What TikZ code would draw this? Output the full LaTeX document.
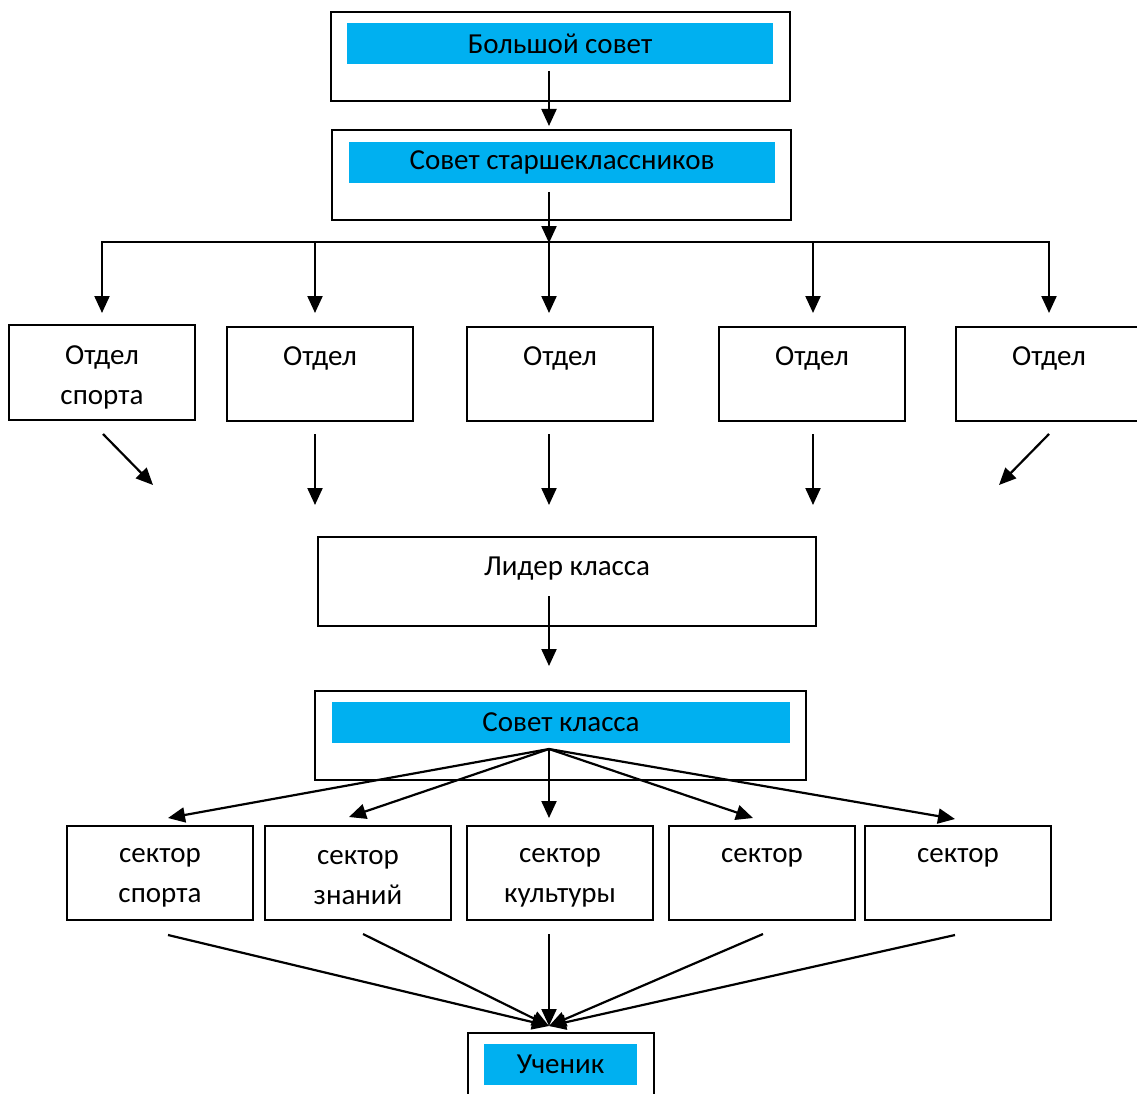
\documentclass[tikz,border=0pt]{standalone}
\usepackage{fontspec}
\setmainfont{Carlito}
\usetikzlibrary{arrows.meta}
\definecolor{barblue}{HTML}{00B0F0}
\begin{document}
\begin{tikzpicture}[x=1pt,y=-1pt,
  box/.style={draw, line width=2pt, inner sep=0pt, minimum width=#1},
  box/.default=186pt,
  bar/.style={fill=barblue, inner sep=0pt, minimum height=41pt, minimum width=#1},
  lbl/.style={inner sep=0pt, align=center, font=\fontsize{29}{40}\selectfont},
  arr/.style={line width=2.2pt, -{Triangle[width=15pt,length=17pt]}},
  ln/.style={line width=2.2pt}]
\useasboundingbox (0,0) rectangle (1137,1094);

% top
\node[box=459pt, minimum height=89pt] (big) at (560.5,56.5) {};
\node[bar=426pt, lbl] (bigt) at (560,43.5) {Большой совет};
\node[box=459pt, minimum height=90pt] (sst) at (561.5,175) {};
\node[bar=426pt, lbl] (sstt) at (562,162.5) {Совет старшеклассников};

\coordinate (a1s) at (549,71);
\coordinate (a1e) at (549,126);
\coordinate (a2s) at (549,192);
\coordinate (bus) at (549,243);
\draw[arr] (a1s) -- (a1e);
\draw[arr] (a2s) -- (bus);

% departments
\node[box, minimum height=95pt] (d1) at (102,372.5) {};
\node[box, minimum height=94pt] (d2) at (320,374) {};
\node[box, minimum height=94pt] (d3) at (560,374) {};
\node[box, minimum height=94pt] (d4) at (812,374) {};
\node[box, minimum height=94pt] (d5) at (1049,374) {};
\node[lbl] (d1t) at (102,377) {Отдел\\спорта};
\node[lbl] (d2t) at (320,358) {Отдел};
\node[lbl] (d3t) at (560,358) {Отдел};
\node[lbl] (d4t) at (812,358) {Отдел};
\node[lbl] (d5t) at (1049,358) {Отдел};

\coordinate (bl) at (102,242);
\coordinate (br) at (1049,242);
\draw[ln, line cap=rect] (bl) -- (br);
\foreach \x/\n in {102/1,315/2,549/3,813/4,1049/5}{
  \coordinate (bt\n) at (\x,242);
  \coordinate (be\n) at (\x,313);
  \draw[arr] (bt\n) -- (be\n);
}

% arrows to leader
\coordinate (l1s) at (103,434); \coordinate (l1e) at (153,485);
\coordinate (l2s) at (315,434); \coordinate (l2e) at (315,505);
\coordinate (l3s) at (549,434); \coordinate (l3e) at (549,505);
\coordinate (l4s) at (813,434); \coordinate (l4e) at (813,505);
\coordinate (l5s) at (1049,434); \coordinate (l5e) at (999,485);
\foreach \n in {1,...,5}{\draw[arr] (l\n s) -- (l\n e);}

\node[box=498pt, minimum height=89pt] (lead) at (567,581.5) {};
\node[lbl] (leadt) at (567,569) {Лидер класса};
\coordinate (lds) at (549,596);
\coordinate (lde) at (549,666);
\draw[arr] (lds) -- (lde);

% class council
\node[box=491pt, minimum height=89pt] (cc) at (560.5,735.5) {};
\node[bar=458pt, lbl] (cct) at (561,722.5) {Совет класса};
\coordinate (ccs) at (549,749);

% sectors
\node[box, minimum height=94pt] (s1) at (160,873) {};
\node[box, minimum height=94pt] (s2) at (358,873) {};
\node[box, minimum height=94pt] (s3) at (560,873) {};
\node[box, minimum height=94pt] (s4) at (762,873) {};
\node[box, minimum height=94pt] (s5) at (958,873) {};
\node[lbl] (s1t) at (160,878) {сектор\\спорта};
\node[lbl] (s2t) at (358,878) {сектор\\знаний};
\node[lbl] (s3t) at (560,878) {сектор\\культуры};
\node[lbl] (s4t) at (762,858) {сектор};
\node[lbl] (s5t) at (958,858) {сектор};

\coordinate (c1) at (168,818);
\coordinate (c2) at (349,817);
\coordinate (c3) at (549,818);
\coordinate (c4) at (753,818);
\coordinate (c5) at (955,819);
\foreach \n in {1,...,5}{\draw[arr] (ccs) -- (c\n);}

% to pupil
\coordinate (u1) at (168,935);
\coordinate (u2) at (363,934);
\coordinate (u3) at (549,934);
\coordinate (u4) at (763,934);
\coordinate (u5) at (955,935);
\coordinate (ue) at (549,1026);
\foreach \n in {1,...,5}{\draw[arr] (u\n) -- (ue);}

\node[box, minimum height=80pt] (pup) at (560.5,1073) {};
\node[bar=153pt, lbl] (pupt) at (560.5,1064.5) {Ученик};
\end{tikzpicture}
\end{document}
